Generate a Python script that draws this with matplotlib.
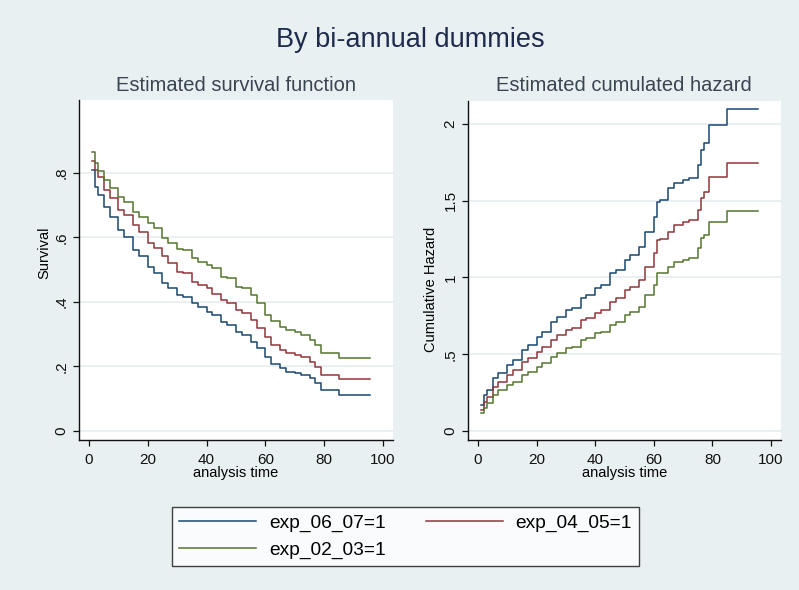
import numpy as np
import matplotlib
matplotlib.use('Agg')
import matplotlib.pyplot as plt

plt.rcParams.update({'font.family': 'Liberation Sans'})

# survival function readings (analysis time vs S(t))
surv_t = [1, 2, 3, 5, 7, 10, 12, 15, 17, 20, 22, 25, 27, 30, 32, 35, 37, 40, 42, 45,
          47, 50, 52, 55, 57, 60, 62, 65, 67, 70, 72, 75, 77, 79, 85, 95.6]
surv_0607 = [0.809, 0.757, 0.731, 0.695, 0.664, 0.623, 0.602, 0.561, 0.541, 0.509, 0.489, 0.458,
             0.442, 0.422, 0.416, 0.396, 0.385, 0.370, 0.360, 0.339, 0.329, 0.308, 0.298, 0.277,
             0.256, 0.230, 0.209, 0.194, 0.184, 0.181, 0.174, 0.163, 0.148, 0.127, 0.112, 0.112]
surv_0405 = [0.837, 0.809, 0.788, 0.747, 0.721, 0.685, 0.670, 0.639, 0.618, 0.582, 0.567, 0.541,
             0.520, 0.494, 0.489, 0.463, 0.452, 0.442, 0.426, 0.406, 0.396, 0.375, 0.365, 0.344,
             0.318, 0.292, 0.266, 0.251, 0.241, 0.235, 0.230, 0.215, 0.199, 0.174, 0.161, 0.161]
surv_0203 = [0.866, 0.831, 0.807, 0.778, 0.752, 0.726, 0.711, 0.680, 0.662, 0.644, 0.628, 0.597,
             0.582, 0.563, 0.561, 0.535, 0.525, 0.515, 0.504, 0.478, 0.473, 0.447, 0.442, 0.422,
             0.396, 0.360, 0.342, 0.323, 0.313, 0.307, 0.297, 0.282, 0.266, 0.241, 0.226, 0.226]

# cumulative hazard readings
haz_t = [1, 2, 3, 5, 7, 10, 12, 15, 17, 20, 22, 25, 27, 30, 32, 35, 37, 40, 42, 45,
         47, 50, 52, 55, 57, 60, 61, 62, 65, 67, 70, 72, 75, 76, 77, 79, 85, 95.6]
haz_0607 = [0.169, 0.235, 0.267, 0.343, 0.376, 0.430, 0.463, 0.528, 0.560, 0.615, 0.647, 0.712,
            0.745, 0.788, 0.799, 0.864, 0.886, 0.929, 0.951, 1.027, 1.049, 1.114, 1.147, 1.201,
            1.299, 1.397, 1.494, 1.505, 1.581, 1.614, 1.635, 1.646, 1.733, 1.831, 1.874, 1.993,
            2.097, 2.097]
haz_0405 = [0.137, 0.191, 0.224, 0.289, 0.321, 0.365, 0.397, 0.452, 0.473, 0.517, 0.550, 0.593,
            0.625, 0.658, 0.669, 0.723, 0.734, 0.767, 0.788, 0.843, 0.864, 0.919, 0.940, 0.984,
            1.071, 1.158, 1.245, 1.249, 1.299, 1.342, 1.364, 1.375, 1.440, 1.516, 1.560, 1.657,
            1.748, 1.748]
haz_0203 = [0.115, 0.148, 0.180, 0.235, 0.267, 0.300, 0.321, 0.365, 0.387, 0.419, 0.441, 0.484,
            0.506, 0.539, 0.550, 0.593, 0.604, 0.637, 0.647, 0.691, 0.712, 0.756, 0.777, 0.810,
            0.886, 0.951, 1.027, 1.032, 1.071, 1.103, 1.114, 1.125, 1.190, 1.256, 1.277, 1.364,
            1.434, 1.434]

labels = ['exp_06_07=1', 'exp_04_05=1', 'exp_02_03=1']
colors = ['#1A476F', '#90353B', '#55752F']

bg = '#E9F0F2'
grid_c = '#E6EEF0'

fig = plt.figure(figsize=(7.99, 5.90), dpi=100, facecolor=bg)

ax1 = fig.add_axes([79/799, 150/590, 314/799, 340/590])
ax2 = fig.add_axes([468/799, 150/590, 313/799, 339/590])

for ax, t, series in [(ax1, surv_t, [surv_0607, surv_0405, surv_0203]),
                      (ax2, haz_t, [haz_0607, haz_0405, haz_0203])]:
    ax.set_facecolor('white')
    for s, c, lab in zip(series, colors, labels):
        ax.plot(t, s, drawstyle='steps-post', color=c, lw=1.1, label=lab)
    for side in ['top', 'right']:
        ax.spines[side].set_visible(False)
    for side in ['left', 'bottom']:
        ax.spines[side].set_linewidth(1.0)
        ax.spines[side].set_color('#111111')
    ax.grid(axis='y', color=grid_c, lw=1.2)
    ax.set_axisbelow(True)
    ax.tick_params(length=4.5, width=0.9, labelsize=11, colors='#111111', pad=3)
    ax.tick_params(axis='x', pad=4.5)
    ax.set_xlim(-3.4, 103.4)
    ax.set_xticks([0, 20, 40, 60, 80, 100])
    ax.set_xlabel('analysis time', fontsize=10.5, labelpad=-0.5)

ax1.set_ylim(-0.028, 1.026)
ax1.set_yticks([0, 0.2, 0.4, 0.6, 0.8])
ax1.set_yticklabels(['0', '.2', '.4', '.6', '.8'], rotation=90, va='center')
ax1.set_ylabel('Survival', fontsize=10.5)
ax1.yaxis.set_label_coords(-0.087, 0.55)

ax2.set_ylim(-0.059, 2.15)
ax2.set_yticks([0, 0.5, 1, 1.5, 2])
ax2.set_yticklabels(['0', '.5', '1', '1.5', '2'], rotation=90, va='center')
ax2.set_ylabel('Cumulative Hazard', fontsize=10.5)
ax2.yaxis.set_label_coords(-0.097, 0.445)

fig.text(410/799, 1 - 40/590, 'By bi-annual dummies', ha='center', va='center',
         fontsize=19.5, color='#1E2B4D')
fig.text(236/799, 1 - 85/590, 'Estimated survival function', ha='center', va='center',
         fontsize=14.5, color='#3A4552')
fig.text(624/799, 1 - 85/590, 'Estimated cumulated hazard', ha='center', va='center',
         fontsize=14.5, color='#3A4552')

h, l = ax1.get_legend_handles_labels()
order = [0, 2, 1]
leg = fig.legend([h[i] for i in order], [l[i] for i in order], ncol=2,
                 loc='upper left', bbox_to_anchor=(172/799, 1 - 507/590),
                 fontsize=13.8, frameon=True, fancybox=False,
                 handlelength=4.0, handletextpad=0.68, columnspacing=2.1,
                 borderaxespad=0, labelspacing=0.48, borderpad=0.38)
leg.get_frame().set_edgecolor('#111111')
leg.get_frame().set_linewidth(1.0)
leg.get_frame().set_facecolor('white')

fig.savefig('out.png', dpi=100, facecolor=bg)
